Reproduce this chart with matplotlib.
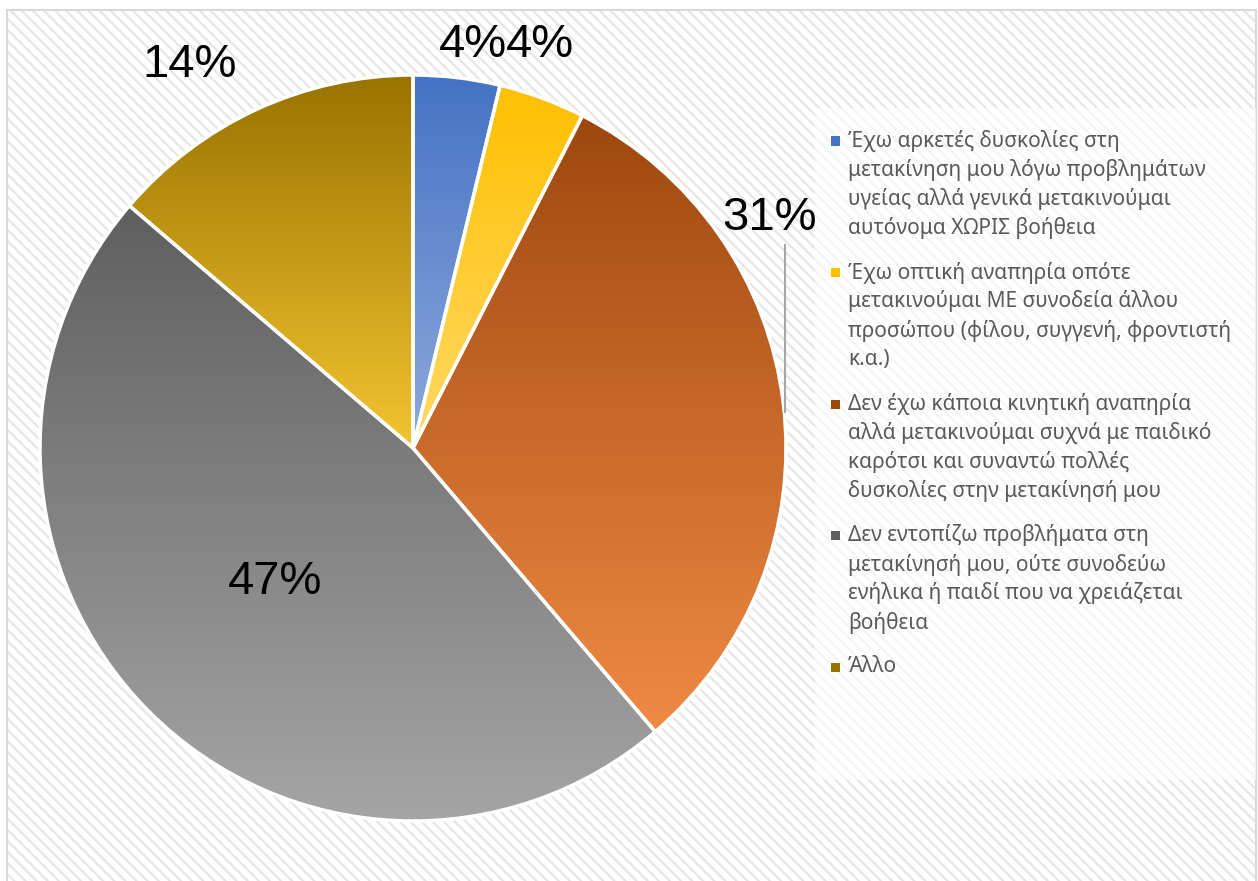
import matplotlib.pyplot as plt
import numpy as np
from matplotlib.colors import LinearSegmentedColormap
from matplotlib.patches import Rectangle

# respondents per answer
answers = [
    "Έχω αρκετές δυσκολίες στη\nμετακίνηση μου λόγω προβλημάτων\nυγείας αλλά γενικά μετακινούμαι\nαυτόνομα ΧΩΡΙΣ βοήθεια",
    "Έχω οπτική αναπηρία οπότε\nμετακινούμαι ΜΕ συνοδεία άλλου\nπροσώπου (φίλου, συγγενή, φροντιστή\nκ.α.)",
    "Δεν έχω κάποια κινητική αναπηρία\nαλλά μετακινούμαι συχνά με παιδικό\nκαρότσι και συναντώ πολλές\nδυσκολίες στην μετακίνησή μου",
    "Δεν εντοπίζω προβλήματα στη\nμετακίνησή μου, ούτε συνοδεύω\nενήλικα ή παιδί που να χρειάζεται\nβοήθεια",
    "Άλλο",
]
counts = [3, 3, 25, 38, 11]
pct_labels = ["4%", "4%", "31%", "47%", "14%"]

# gradient (top colour, bottom colour) per slice
top_colors = ["#4472C4", "#FFC000", "#9E480E", "#5F5F5F", "#997300"]
bottom_colors = ["#8FAADC", "#FFD966", "#F08A45", "#A5A5A5", "#F4C430"]

# where Excel put the labels (pie radius = 1)
label_xy = [(0.16, 1.08), (0.34, 1.08), (0.957, 0.617), (-0.37, -0.36), (-0.598, 1.027)]

W, H = 1258, 881
fig = plt.figure(figsize=(W / 100, H / 100), dpi=100)
fig.patch.set_facecolor("white")

# hatched chart area + light border
plt.rcParams["hatch.linewidth"] = 1.6
bg = Rectangle((7 / W, -0.01), 1249 / W, 1 - 10 / H + 0.01, transform=fig.transFigure,
               facecolor="white", edgecolor="#E6E6E6", linewidth=0, hatch="\\\\\\", zorder=-2)
fig.patches.append(bg)
border = Rectangle((7 / W, -0.01), 1249 / W, 1 - 10 / H + 0.01, transform=fig.transFigure,
                   facecolor="none", edgecolor="#D9D9D9", linewidth=1.5, zorder=-1)
fig.patches.append(border)

# pie axes: centre (413, 448) px, radius 373 px
cx, cy, R = 413, 448, 373
ax = fig.add_axes([(cx - R) / W, (H - cy - R) / H, 2 * R / W, 2 * R / H])
ax.set_zorder(2)
ax.axis("off")
ax.patch.set_alpha(0)

wedges, _ = ax.pie(counts, startangle=90, counterclock=False, radius=1,
                   wedgeprops=dict(edgecolor="white", linewidth=2.5))

grad = np.linspace(0, 1, 256).reshape(-1, 1)
for w, c0, c1 in zip(wedges, top_colors, bottom_colors):
    ext = w.get_path().get_extents()
    cmap = LinearSegmentedColormap.from_list("g", [c0, c1])
    im = ax.imshow(grad, cmap=cmap, extent=[ext.x0, ext.x1, ext.y0, ext.y1],
                   origin="upper", aspect="auto", zorder=2, interpolation="bilinear")
    im.set_clip_path(w)
    w.set_facecolor("none")
    w.set_zorder(3)
ax.set_xlim(-1, 1)
ax.set_ylim(-1, 1)

for (x, y), t in zip(label_xy, pct_labels):
    ax.text(x, y, t, ha="center", va="center", fontsize=34,
            family="Liberation Sans", color="black", zorder=5)

# leader line for 31%
ax.plot([0.997, 0.997], [0.545, 0.097], color="#A6A6A6", lw=1.5, zorder=4, clip_on=False)

# legend panel
panel = Rectangle((815 / W, 1 - 780 / H), 441 / W, 672 / H, transform=fig.transFigure,
                  facecolor="white", alpha=0.6, edgecolor="none", zorder=1)
fig.patches.append(panel)

pitch = 29
gap = 15.5
y = 141
for lab, c0, c1 in zip(answers, top_colors, bottom_colors):
    sq = Rectangle((831 / W, 1 - (y + 4.5) / H), 9 / W, 9 / H, transform=fig.transFigure,
                   facecolor=c0, edgecolor="none", zorder=3)
    fig.patches.append(sq)
    lines = lab.split("\n")
    for ln in lines:
        fig.text(848 / W, 1 - y / H, ln, ha="left", va="center", fontsize=15,
                 family="Noto Sans", color="#595959")
        y += pitch
    y += gap

fig.savefig("out.png", dpi=100)
